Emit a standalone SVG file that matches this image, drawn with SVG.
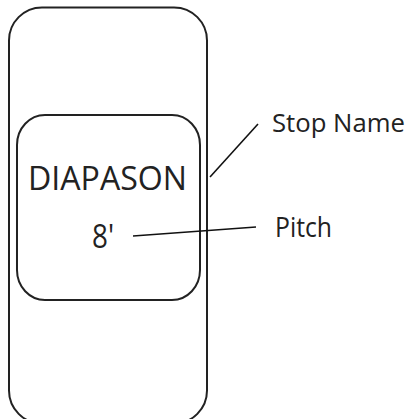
<svg xmlns="http://www.w3.org/2000/svg" width="407" height="419" viewBox="0 0 407 419">
<style>
.box{fill:none;stroke:#222;stroke-width:2}
.ln{stroke:#111;stroke-width:1.6;fill:none}
.t{font-family:"Open Sans","Noto Sans",sans-serif;fill:#222}
</style>
<rect width="407" height="419" fill="#fff"/>
<g id="stop">
<rect class="box" x="9" y="7.5" width="198" height="416" rx="33" ry="33"/>
</g>
<g id="face">
<rect class="box" x="17" y="115" width="183" height="185" rx="28" ry="30"/>
<text class="t" x="28" y="190" font-size="32" textLength="159" lengthAdjust="spacingAndGlyphs">DIAPASON</text>
<text class="t" x="92" y="248" font-size="33" textLength="22" lengthAdjust="spacingAndGlyphs">8'</text>
</g>
<g id="labels">
<text class="t" x="272" y="132" font-size="26" textLength="133" lengthAdjust="spacingAndGlyphs">Stop Name</text>
<text class="t" x="275" y="237" font-size="27" textLength="57" lengthAdjust="spacingAndGlyphs">Pitch</text>
</g>
<g id="connectors">
<line class="ln" x1="210" y1="177" x2="258" y2="124"/>
<line class="ln" x1="133" y1="236" x2="256" y2="227"/>
</g>
</svg>
